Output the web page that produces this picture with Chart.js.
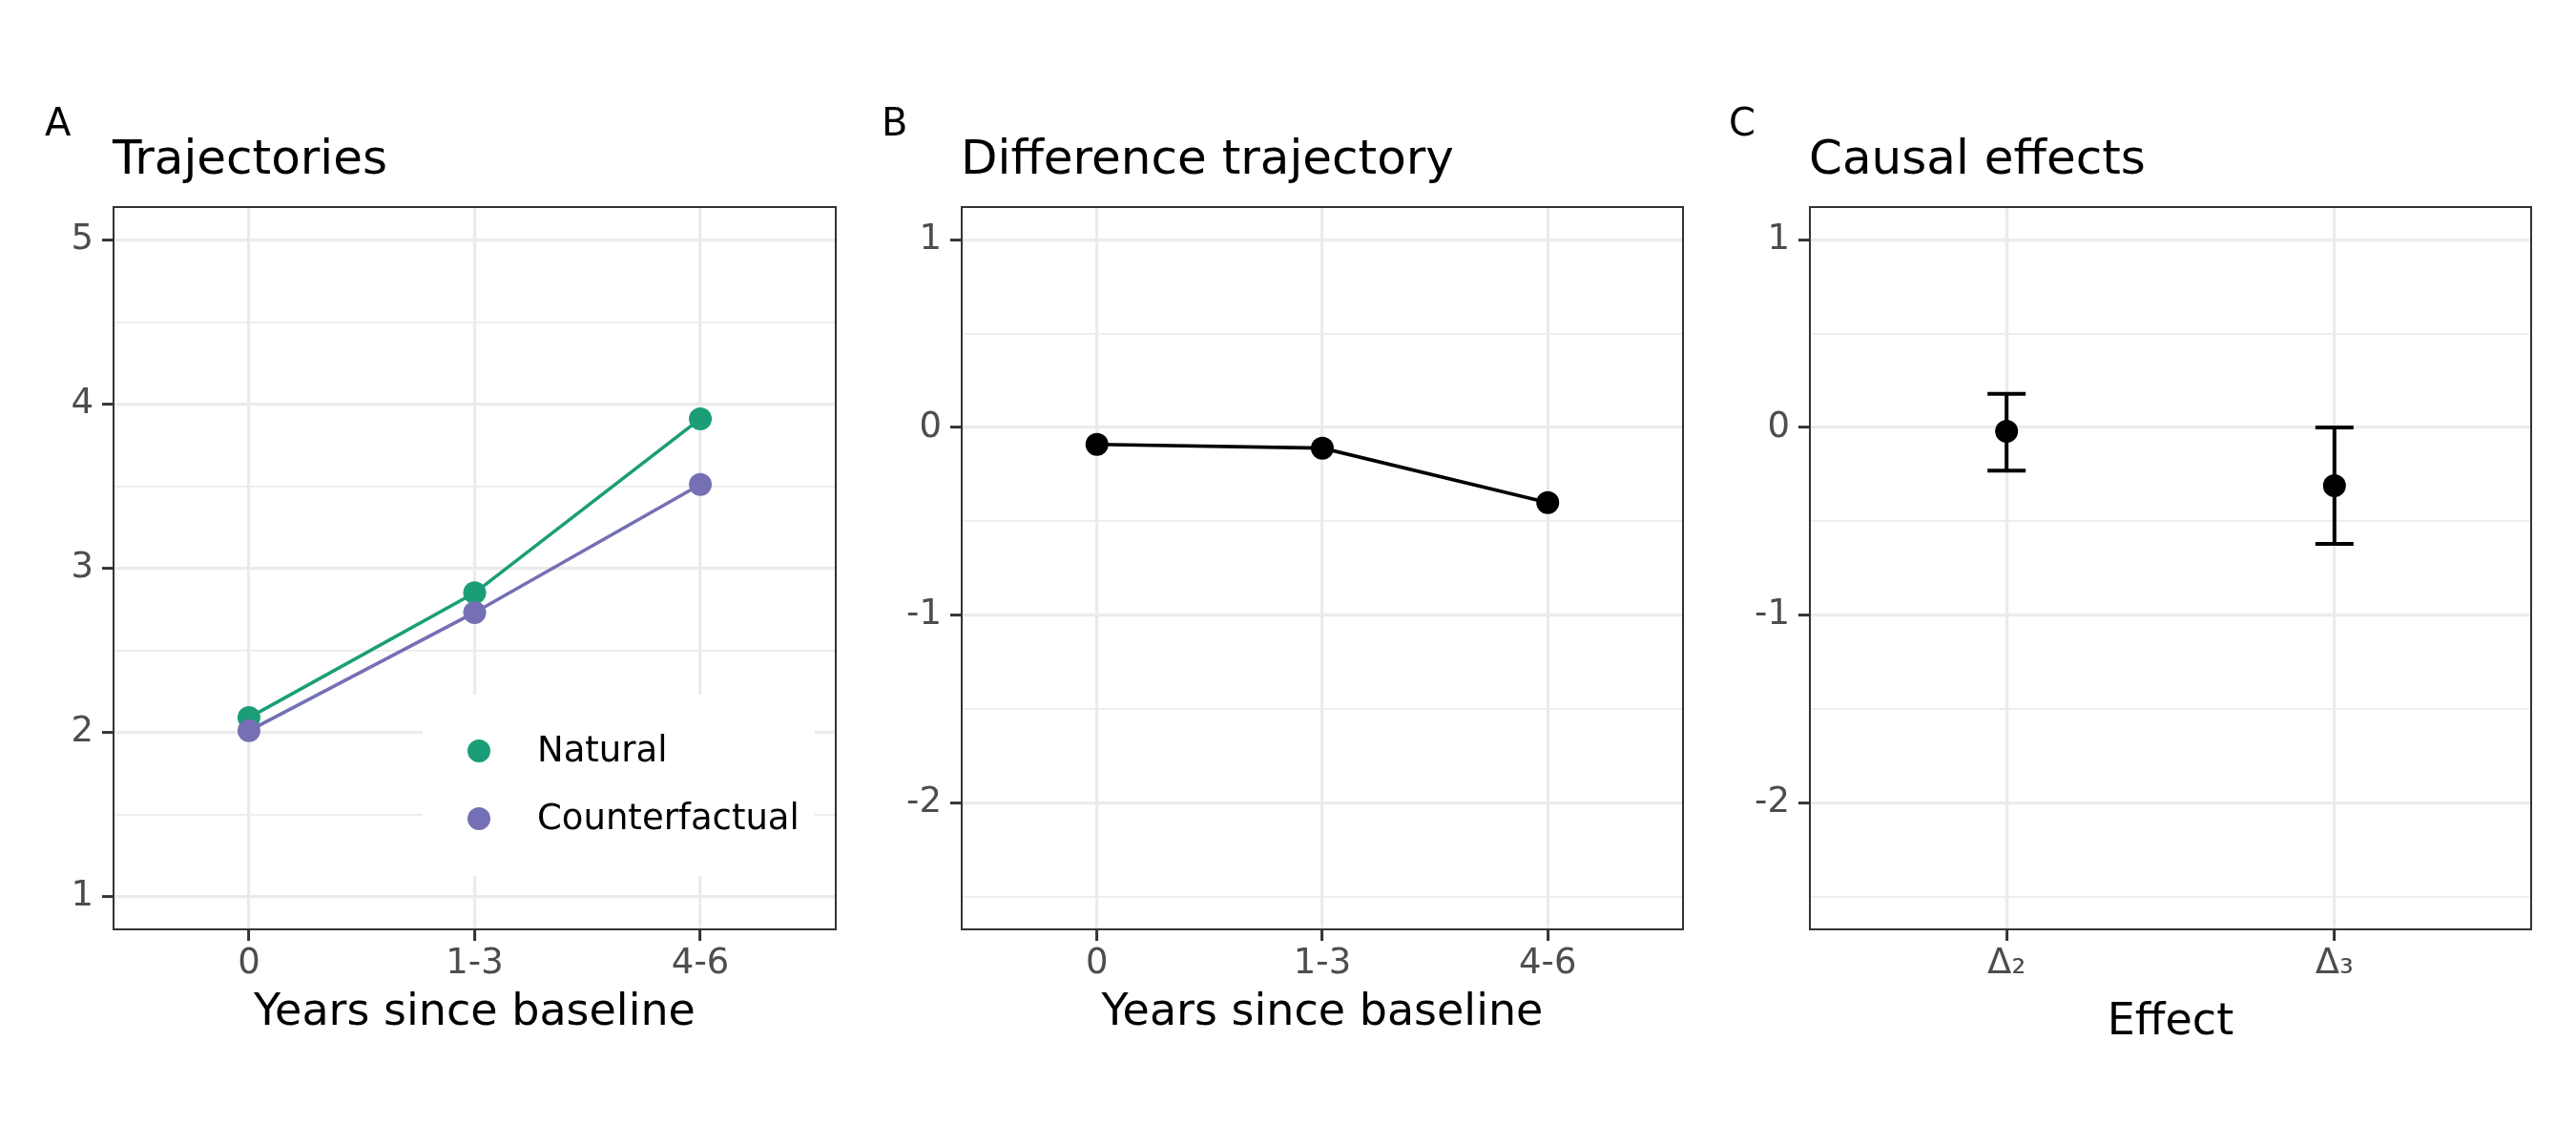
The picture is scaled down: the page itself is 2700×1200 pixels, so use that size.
<!DOCTYPE html>
<html><head><meta charset="utf-8">
<script src="https://cdn.jsdelivr.net/npm/chart.js@4.4.1/dist/chart.umd.min.js"></script>
<style>
html,body{margin:0;padding:0;background:#fff;}
#wrap{position:relative;width:2700px;height:1200px;overflow:hidden;background:#fff;}
canvas{position:absolute;top:0;}
</style></head><body>
<div id="wrap">
<canvas id="cA"></canvas><canvas id="cB"></canvas><canvas id="cC"></canvas>
</div>
<script>
// ---------------- data ----------------
const timeLabels = ['0', '1-3', '4-6'];
const naturalValues = [2.09, 2.85, 3.91];
const counterfactualValues = [2.01, 2.73, 3.51];
const differenceValues = [-0.09, -0.11, -0.40];
const effectLabels = ['Δ₂', 'Δ₃'];
const effectEstimates = [-0.02, -0.31];
const effectLower = [-0.23, -0.62];
const effectUpper = [0.18, 0.00];
const trajTicks = [1, 1.5, 2, 2.5, 3, 3.5, 4, 4.5, 5];
const diffTicks = [-2.5, -2, -1.5, -1, -0.5, 0, 0.5, 1];
const trajRange = [0.8, 5.2];
const diffRange = [-2.675, 1.175];
const seriesNames = ['Natural', 'Counterfactual'];
const seriesColors = ['#1B9E77', '#7570B3'];

// ---------------- layout ----------------
Chart.defaults.font.family = '"DejaVu Sans"';
const PLOT_TOP = 217, PLOT_BOTTOM = 974, H = 1200, RPAD = 12;

const panelDecor = {
  id: 'panelDecor',
  beforeDraw(chart) {
    const ctx = chart.ctx;
    ctx.save(); ctx.fillStyle = '#fff'; ctx.fillRect(0, 0, chart.width, chart.height); ctx.restore();
  },
  afterDraw(chart, args, o) {
    const {ctx, chartArea: a} = chart;
    ctx.save();
    ctx.strokeStyle = '#333333'; ctx.lineWidth = 2;
    ctx.strokeRect(a.left, a.top, a.right - a.left, a.bottom - a.top);
    ctx.fillStyle = '#000'; ctx.textAlign = 'left'; ctx.textBaseline = 'alphabetic';
    ctx.font = '40px "DejaVu Sans"';
    ctx.fillText(o.letter, o.letterX, 142);
    ctx.font = '50px "DejaVu Sans"';
    ctx.fillText(o.title, a.left - 1, 182);
    ctx.restore();
  }
};

const insideLegend = {
  id: 'insideLegend',
  afterDraw(chart, args, o) {
    if (!o || !o.show) return;
    const {ctx, chartArea: a} = chart;
    ctx.save();
    ctx.fillStyle = '#fff';
    ctx.fillRect(a.left + o.boxLeft, o.boxTop, o.boxWidth, o.boxHeight);
    ctx.font = '37px "DejaVu Sans"'; ctx.textBaseline = 'middle'; ctx.textAlign = 'left';
    chart.data.datasets.forEach((ds, i) => {
      const y = o.rowY[i];
      ctx.fillStyle = ds.backgroundColor;
      ctx.beginPath(); ctx.arc(a.left + o.dotX, y, 12, 0, Math.PI * 2); ctx.fill();
      ctx.fillStyle = '#000';
      ctx.fillText(ds.label, a.left + o.textX, y + 1);
    });
    ctx.restore();
  }
};

const errorBars = {
  id: 'errorBars',
  beforeDatasetsDraw(chart, args, o) {
    if (!o || !o.show) return;
    const {ctx, scales: {x, y}} = chart;
    ctx.save();
    ctx.strokeStyle = '#000'; ctx.lineWidth = 4; ctx.lineCap = 'butt';
    effectEstimates.forEach((v, i) => {
      const px = x.getPixelForValue(i);
      const yu = y.getPixelForValue(effectUpper[i]);
      const yl = y.getPixelForValue(effectLower[i]);
      ctx.beginPath();
      ctx.moveTo(px, yu); ctx.lineTo(px, yl);
      ctx.moveTo(px - 20, yu); ctx.lineTo(px + 20, yu);
      ctx.moveTo(px - 20, yl); ctx.lineTo(px + 20, yl);
      ctx.stroke();
    });
    ctx.restore();
  }
};

function makeChart(cfg) {
  const canvas = document.getElementById(cfg.id);
  const w = cfg.plotRight + RPAD - cfg.colLeft;
  canvas.width = w; canvas.height = H;
  canvas.style.left = cfg.colLeft + 'px';
  canvas.style.width = w + 'px'; canvas.style.height = H + 'px';
  const yW = cfg.plotLeft - cfg.colLeft;
  const isInt = v => Math.abs(v - Math.round(v)) < 1e-9;
  return new Chart(canvas, {
    type: 'line',
    data: {datasets: cfg.datasets},
    options: {
      responsive: false, animation: false, devicePixelRatio: 1,
      events: [],
      layout: {padding: {top: PLOT_TOP, right: RPAD, bottom: 0, left: 0}},
      plugins: {
        legend: {display: false}, tooltip: {enabled: false}, title: {display: false},
        panelDecor: {letter: cfg.letter, letterX: cfg.letterX, title: cfg.title},
        insideLegend: cfg.legend || {show: false},
        errorBars: {show: !!cfg.errorBars}
      },
      scales: {
        x: {
          type: 'linear', min: -0.6, max: cfg.xLabels.length - 0.4,
          afterBuildTicks: s => { s.ticks = cfg.xLabels.map((_, i) => ({value: i})); },
          afterFit: s => { s.height = H - PLOT_BOTTOM; },
          ticks: {
            autoSkip: false, maxRotation: 0, minRotation: 0, padding: 2,
            color: '#4D4D4D', font: {size: 37},
            callback: v => cfg.xLabels[v] !== undefined ? cfg.xLabels[v] : ''
          },
          grid: {color: '#EBEBEB', lineWidth: 3.2, tickColor: '#333333', tickWidth: 3, tickLength: 12},
          border: {display: false},
          title: {display: true, text: cfg.xTitle, color: '#000', font: {size: 46}, padding: {top: 0, bottom: cfg.xTitlePad}}
        },
        y: {
          type: 'linear', min: cfg.yRange[0], max: cfg.yRange[1],
          afterBuildTicks: s => { s.ticks = cfg.yTicks.map(v => ({value: v})); },
          afterFit: s => { s.width = yW; },
          ticks: {
            padding: 9, color: '#4D4D4D', font: {size: 37},
            callback: v => isInt(v) ? String(Math.round(v)) : ''
          },
          grid: {
            color: '#EBEBEB',
            lineWidth: c => (c.tick && isInt(c.tick.value)) ? 3.2 : 1.7,
            tickColor: c => (c.tick && isInt(c.tick.value)) ? '#333333' : 'rgba(0,0,0,0)',
            tickWidth: 3, tickLength: 12
          },
          border: {display: false}
        }
      }
    },
    plugins: [panelDecor, insideLegend, errorBars]
  });
}

const pointStyle = (color) => ({
  borderColor: color, backgroundColor: color, pointBackgroundColor: color,
  borderWidth: 3.6, pointRadius: 12, pointHoverRadius: 12, pointBorderWidth: 0, tension: 0
});

makeChart({
  id: 'cA', colLeft: 0, plotLeft: 119, plotRight: 876, letter: 'A', letterX: 47,
  title: 'Trajectories', xTitle: 'Years since baseline', xTitlePad: 110,
  xLabels: timeLabels, yTicks: trajTicks, yRange: trajRange,
  datasets: [
    Object.assign({label: seriesNames[0], order: 2, data: naturalValues.map((v, i) => ({x: i, y: v}))}, pointStyle(seriesColors[0])),
    Object.assign({label: seriesNames[1], order: 1, data: counterfactualValues.map((v, i) => ({x: i, y: v}))}, pointStyle(seriesColors[1]))
  ],
  legend: {show: true, boxLeft: 324, boxTop: 728, boxWidth: 411, boxHeight: 190, dotX: 383, textX: 444, rowY: [787, 858]}
});

makeChart({
  id: 'cB', colLeft: 900, plotLeft: 1008, plotRight: 1764, letter: 'B', letterX: 24,
  title: 'Difference trajectory', xTitle: 'Years since baseline', xTitlePad: 110,
  xLabels: timeLabels, yTicks: diffTicks, yRange: diffRange,
  datasets: [
    Object.assign({label: 'Difference', data: differenceValues.map((v, i) => ({x: i, y: v}))}, pointStyle('#000000'))
  ]
});

makeChart({
  id: 'cC', colLeft: 1790, plotLeft: 1897, plotRight: 2653, letter: 'C', letterX: 22,
  title: 'Causal effects', xTitle: 'Effect', xTitlePad: 100,
  xLabels: effectLabels, yTicks: diffTicks, yRange: diffRange,
  datasets: [
    Object.assign({label: 'Effect', showLine: false, data: effectEstimates.map((v, i) => ({x: i, y: v}))}, pointStyle('#000000'))
  ],
  errorBars: true
});
</script>
</body></html>
